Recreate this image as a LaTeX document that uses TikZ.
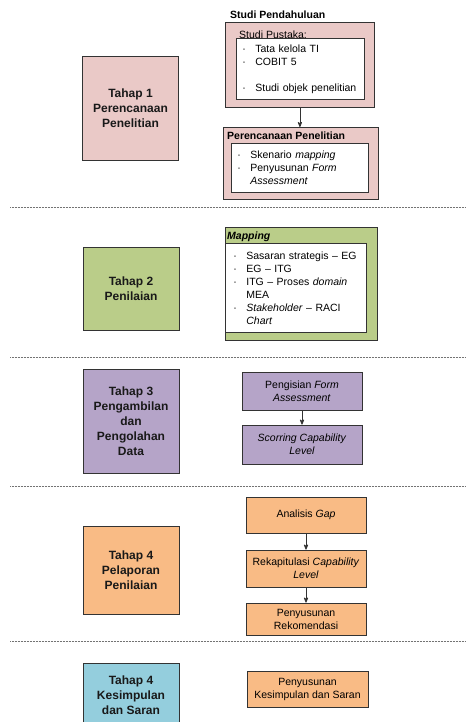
\documentclass[tikz,border=0pt]{standalone}
\usepackage{fontspec}
\setmainfont{Liberation Sans}
\usetikzlibrary{arrows}
\usepackage{xcolor}
\definecolor{merah}{RGB}{234,201,199}
\definecolor{hijau}{RGB}{186,205,137}
\definecolor{ungu}{RGB}{181,164,200}
\definecolor{oranye}{RGB}{249,187,133}
\definecolor{biru}{RGB}{148,206,221}
\newcommand{\butir}[1]{\makebox[13pt][l]{·}#1}
\newcommand{\lanjut}[1]{\hspace*{13pt}#1}

\begin{document}
\begin{tikzpicture}[x=1pt, y=-1pt,
  tahap/.style={draw=black!80, line width=0.8pt, minimum width=96, align=center,
    font=\fontsize{12}{15}\selectfont\bfseries, text=black!90},
  kotak/.style={draw=black!80, line width=0.8pt, anchor=north west, inner sep=0},
  isi/.style={draw=black!80, line width=0.7pt, fill=white, anchor=north west, align=left,
    inner ysep=0, font=\fontsize{10.5}{13}\selectfont},
  proses/.style={draw=black!80, line width=0.8pt, align=center,
    font=\fontsize{10.5}{13}\selectfont},
  judul/.style={anchor=base west, inner sep=0, font=\fontsize{10.5}{13}\selectfont\bfseries},
  panah/.style={draw=black!80, thick, ->, >=stealth'}]
\clip (0,0) rectangle (466,722);
\fill[white] (0,0) rectangle (466,722);
\foreach \y in {207,357,486,641} {
 \draw[black!55, line width=0.5pt, densely dotted] (10,\y) -- (466,\y);
}
% kolom kiri
\node[tahap, fill=merah, minimum height=104] (tahap1) at (130.5,108) {Tahap 1\\Perencanaan\\Penelitian};
\node[tahap, fill=hijau, minimum height=83] (tahap2) at (131,288.5) {Tahap 2\\Penilaian};
\node[tahap, fill=ungu, minimum height=104] (tahap3) at (131,421) {Tahap 3\\Pengambilan\\dan\\Pengolahan\\Data};
\node[tahap, fill=oranye, minimum height=88] (tahap4) at (131,570) {Tahap 4\\Pelaporan\\Penilaian};
\node[tahap, fill=biru, minimum height=64] (tahap5) at (131,695) {Tahap 4\\Kesimpulan\\dan Saran};
% tahap 1
\node[kotak, fill=merah, minimum width=149, minimum height=85] (pendahuluan) at (225,22) {};
\node[judul] (judulpendahuluan) at (230,19) {Studi Pendahuluan};
\node[isi, text width=116, inner xsep=6, minimum height=61] (pustaka) at (236,38)
  {\butir{Tata kelola TI}\\\butir{COBIT 5}\\[13pt]\butir{Studi objek penelitian}};
\node[judul, font=\fontsize{10.5}{13}\selectfont] (judulpustaka) at (239,39) {Studi Pustaka:};
\node[kotak, fill=merah, minimum width=155, minimum height=72] (perencanaan) at (223,127) {};
\node[judul] (judulperencanaan) at (227,140) {Perencanaan Penelitian};
\node[isi, text width=125, inner xsep=6, minimum height=49] (skenario) at (231,143)
  {\butir{Skenario \textit{mapping}}\\\butir{Penyusunan \textit{Form}}\\\lanjut{\textit{Assessment}}};
\draw[panah] (pendahuluan.south) -- (pendahuluan.south |- perencanaan.north);
% tahap 2
\node[kotak, fill=hijau, minimum width=152, minimum height=113] (mapping) at (225,227) {};
\node[judul, font=\fontsize{10.5}{13}\selectfont\bfseries\itshape] (judulmapping) at (227,239) {Mapping};
\node[isi, text width=125, inner xsep=8, minimum height=89] (sasaran) at (225,243)
  {\butir{Sasaran strategis -- EG}\\\butir{EG -- ITG}\\\butir{ITG -- Proses \textit{domain}}\\\lanjut{MEA}\\\butir{\textit{Stakeholder} -- RACI}\\\lanjut{\textit{Chart}}};
% tahap 3
\node[proses, fill=ungu, minimum width=120, minimum height=38] (pengisian) at (302,391) {Pengisian \textit{Form}\\\textit{Assessment}};
\node[proses, fill=ungu, minimum width=120, minimum height=39] (scorring) at (302,444.5) {\textit{Scorring Capability}\\\textit{Level}};
\draw[panah] (pengisian) -- (scorring);
% tahap 4
\node[proses, fill=oranye, minimum width=120, minimum height=36] (gap) at (306,515) {Analisis \textit{Gap}};
\node[proses, fill=oranye, minimum width=120, minimum height=37] (rekap) at (306,568.5) {Rekapitulasi \textit{Capability}\\\textit{Level}};
\node[proses, fill=oranye, minimum width=120, minimum height=32] (rekomendasi) at (306,619) {Penyusunan\\Rekomendasi};
\draw[panah] (gap) -- (rekap);
\draw[panah] (rekap) -- (rekomendasi);
% tahap 5
\node[proses, fill=oranye, minimum width=121, minimum height=36] (kesimpulan) at (307.5,689) {Penyusunan\\Kesimpulan dan Saran};
\end{tikzpicture}
\end{document}
